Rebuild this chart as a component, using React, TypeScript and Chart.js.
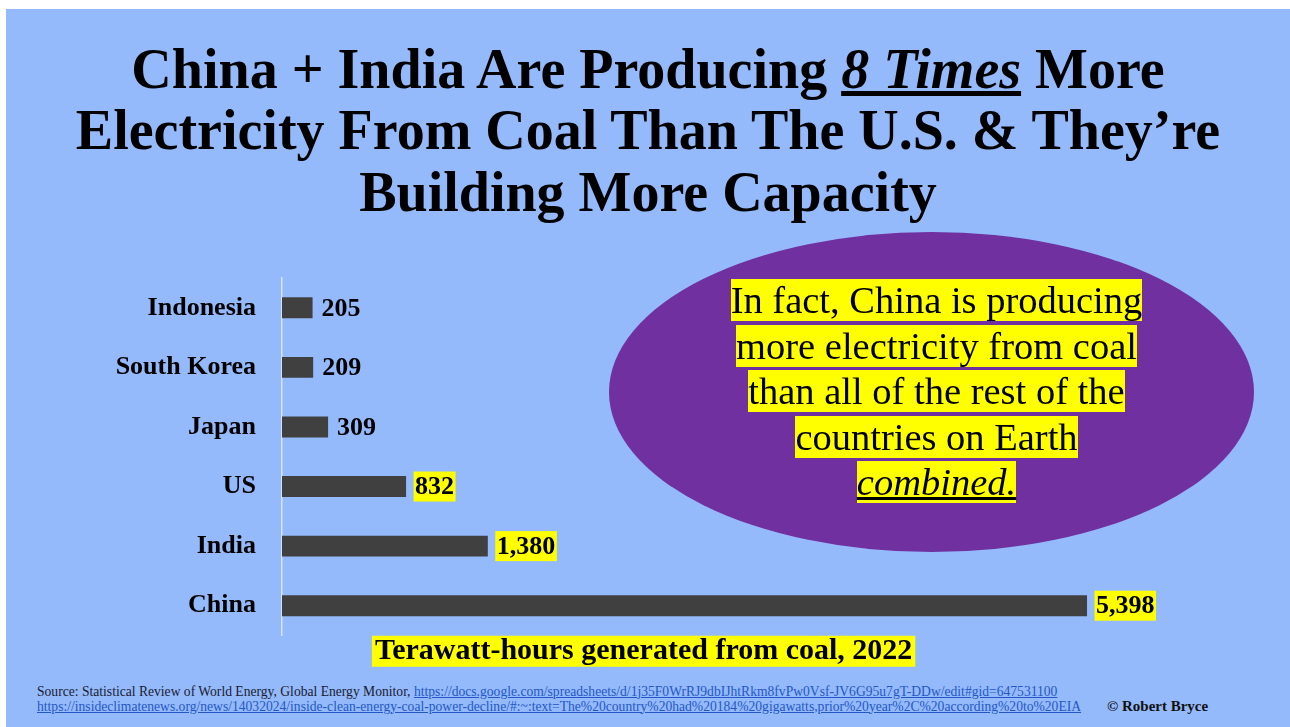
import React, { useEffect, useRef } from "react";
import { Chart, registerables } from "chart.js";

Chart.register(...registerables);

const countries = ["Indonesia", "South Korea", "Japan", "US", "India", "China"];
const twh2022 = [205, 209, 309, 832, 1380, 5398];
const highlightedCountries = ["US", "India", "China"];
const axisTitle = "Terawatt-hours generated from coal, 2022";
const xMax = 6700;

const BLUE = "#94BAFB";
const PURPLE = "#7030A0";
const YELLOW = "#FFFF00";
const BAR = "#404040";
const SERIF = "'Liberation Serif', 'Times New Roman', serif";
const TITLE_SIZE = 30;
const TITLE_LH = 1.05;

const valueLabels = {
  id: "valueLabels",
  afterDatasetsDraw(chart: any) {
    const ctx = chart.ctx;
    const meta = chart.getDatasetMeta(0);
    ctx.save();
    ctx.font = `bold 26px ${SERIF}`;
    ctx.textBaseline = "middle";
    ctx.textAlign = "left";
    meta.data.forEach((bar: any, i: number) => {
      const txt = twh2022[i].toLocaleString("en-US");
      const x = bar.x + 9;
      const y = bar.y;
      const w = ctx.measureText(txt).width;
      if (highlightedCountries.includes(countries[i])) {
        ctx.fillStyle = YELLOW;
        ctx.fillRect(x - 1.5, y - 15, w + 3, 30);
      }
      ctx.fillStyle = "#000";
      ctx.fillText(txt, x, y + 1);
    });
    ctx.restore();
  },
};

const titleHighlight = {
  id: "titleHighlight",
  beforeDraw(chart: any) {
    const tb = chart.titleBlock;
    if (!tb) return;
    const ctx = chart.ctx;
    ctx.save();
    ctx.font = `bold ${TITLE_SIZE}px ${SERIF}`;
    const w = ctx.measureText(axisTitle).width;
    const cx = tb.left + tb.width / 2;
    const cy = tb.top + (TITLE_SIZE * TITLE_LH) / 2;
    ctx.fillStyle = YELLOW;
    ctx.fillRect(cx - w / 2 - 3, cy - 15.5, w + 6, 31);
    ctx.restore();
  },
};

export default function App() {
  const ref = useRef<HTMLCanvasElement | null>(null);

  useEffect(() => {
    if (!ref.current) return;
    const chart = new Chart(ref.current, {
      type: "bar",
      data: {
        labels: countries,
        datasets: [
          {
            data: twh2022,
            backgroundColor: BAR,
            borderWidth: 0,
            barPercentage: 0.35,
            categoryPercentage: 1.0,
          },
        ],
      },
      options: {
        animation: false,
        responsive: false,
        indexAxis: "y",
        layout: { padding: { top: 16, right: 8.8, left: 0, bottom: 0 } },
        scales: {
          x: {
            display: false,
            min: 0,
            max: xMax,
          },
          y: {
            grid: { display: false, drawTicks: false },
            border: { display: true, color: "rgba(235,242,255,0.75)", width: 1.5 },
            ticks: {
              color: "#000",
              padding: 26,
              font: { family: SERIF, size: 26, weight: "bold" },
            },
            afterFit(scale: any) {
              scale.width = 276;
              scale.paddingTop = 0;
              scale.paddingBottom = 0;
            },
          },
        },
        plugins: {
          legend: { display: false },
          tooltip: { enabled: false },
          title: {
            display: true,
            position: "bottom",
            align: "center",
            text: axisTitle,
            color: "#000",
            font: { family: SERIF, size: TITLE_SIZE, weight: "bold", lineHeight: TITLE_LH },
            padding: { top: 0, bottom: 3 },
          },
        },
      } as any,
      plugins: [valueLabels, titleHighlight],
    });
    return () => chart.destroy();
  }, []);

  const line = (content: React.ReactNode) => (
    <div style={{ whiteSpace: "nowrap" }}>
      <span style={{ background: YELLOW }}>{content}</span>
    </div>
  );

  const link = { color: "#2457C5", textDecoration: "underline" };

  return (
    <div style={{ position: "fixed", inset: 0, background: "#fff" }}>
      <div
        style={{
          position: "absolute",
          left: 6,
          top: 9,
          width: 1284,
          height: 718,
          background: BLUE,
          overflow: "hidden",
          fontFamily: SERIF,
          color: "#000",
        }}
      >
        <div
          style={{
            position: "absolute",
            top: 29.5,
            left: 0,
            width: 1284,
            textAlign: "center",
            fontSize: 56,
            fontWeight: "bold",
            lineHeight: "61.7px",
            whiteSpace: "nowrap",
          }}
        >
          <div>
            China + India Are Producing{" "}
            <span style={{ fontStyle: "italic", textDecoration: "underline" }}>8 Times</span> More
          </div>
          <div>Electricity From Coal Than The U.S. &amp; They’re</div>
          <div>Building More Capacity</div>
        </div>

        <canvas
          ref={ref}
          width={1284}
          height={408}
          style={{ position: "absolute", left: 0, top: 253, width: 1284, height: 408 }}
        />

        <div
          style={{
            position: "absolute",
            left: 603,
            top: 223,
            width: 645,
            height: 320,
            borderRadius: "50%",
            background: PURPLE,
          }}
        />
        <div
          style={{
            position: "absolute",
            left: 608,
            top: 269,
            width: 645,
            textAlign: "center",
            fontSize: 38.5,
            lineHeight: "45.5px",
          }}
        >
          {line("In fact, China is producing")}
          {line("more electricity from coal")}
          {line("than all of the rest of the")}
          {line("countries on Earth")}
          {line(
            <span style={{ fontStyle: "italic", textDecoration: "underline" }}>combined.</span>
          )}
        </div>

        <div
          style={{
            position: "absolute",
            left: 31,
            top: 674.5,
            fontSize: 13.6,
            lineHeight: "15px",
            whiteSpace: "nowrap",
            color: "#1a1a33",
          }}
        >
          <div>
            Source: Statistical Review of World Energy, Global Energy Monitor,{" "}
            <span style={link}>
              https://docs.google.com/spreadsheets/d/1j35F0WrRJ9dbIJhtRkm8fvPw0Vsf-JV6G95u7gT-DDw/edit#gid=647531100
            </span>
          </div>
          <div>
            <span style={link}>
              https://insideclimatenews.org/news/14032024/inside-clean-energy-coal-power-decline/#:~:text=The%20country%20had%20184%20gigawatts,prior%20year%2C%20according%20to%20EIA
            </span>
          </div>
        </div>
        <div
          style={{
            position: "absolute",
            left: 1101,
            top: 689,
            fontSize: 15,
            fontWeight: "bold",
            lineHeight: "16px",
            whiteSpace: "nowrap",
            color: "#111",
          }}
        >
          © Robert Bryce
        </div>
      </div>
    </div>
  );
}
